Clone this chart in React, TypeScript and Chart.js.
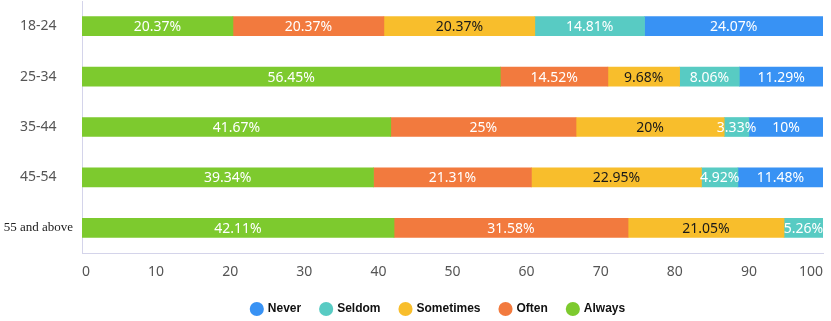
import React, { useEffect, useRef } from "react";
import { Chart, registerables } from "chart.js";

Chart.register(...registerables);

const categories = ["18-24", "25-34", "35-44", "45-54", "55 and above"];
const always = [20.37, 56.45, 41.67, 39.34, 42.11];
const often = [20.37, 14.52, 25, 21.31, 31.58];
const sometimes = [20.37, 9.68, 20, 22.95, 21.05];
const seldom = [14.81, 8.06, 3.33, 4.92, 5.26];
const never = [24.07, 11.29, 10, 11.48, 0];
const xTicks = [0, 10, 20, 30, 40, 50, 60, 70, 80, 90, 100];

const SANS = "'Noto Sans', 'Open Sans', sans-serif";

const seriesDefs = [
  { label: "Always", data: always, color: "#7dca2e", text: "#ffffff" },
  { label: "Often", data: often, color: "#f27a3e", text: "#ffffff" },
  { label: "Sometimes", data: sometimes, color: "#f8be2c", text: "#1a1a1a" },
  { label: "Seldom", data: seldom, color: "#58cbc3", text: "#ffffff" },
  { label: "Never", data: never, color: "#3892f4", text: "#ffffff" },
];

const barLabels = {
  id: "barLabels",
  afterLayout(chart: any) {
    if (chart.legend) {
      chart.legend.left += 27;
      chart.legend.right += 27;
    }
  },
  afterDatasetsDraw(chart: any) {
    const ctx = chart.ctx;
    ctx.save();
    ctx.font = `14px ${SANS}`;
    ctx.textAlign = "center";
    ctx.textBaseline = "middle";
    chart.data.datasets.forEach((ds: any, di: number) => {
      const meta = chart.getDatasetMeta(di);
      meta.data.forEach((bar: any, i: number) => {
        const v = ds.data[i];
        if (!v) return;
        ctx.fillStyle = seriesDefs[di].text;
        ctx.fillText(`${v}%`, (bar.x + bar.base) / 2, bar.y + 1);
      });
    });
    ctx.restore();
  },
};

export default function App() {
  const ref = useRef<HTMLCanvasElement | null>(null);
  useEffect(() => {
    if (!ref.current) return;
    const chart = new Chart(ref.current, {
      type: "bar",
      data: {
        labels: categories,
        datasets: seriesDefs.map((s) => ({
          label: s.label,
          data: s.data,
          backgroundColor: s.color,
          borderWidth: 0,
          barThickness: 19,
        })),
      },
      options: {
        indexAxis: "y",
        animation: false,
        responsive: false,
        layout: { padding: { left: 0, right: 8, top: 1, bottom: 0 } },
        plugins: {
          tooltip: { enabled: false },
          legend: {
            position: "bottom",
            reverse: true,
            labels: {
              usePointStyle: true,
              pointStyle: "circle",
              boxWidth: 10,
              boxHeight: 10,
              padding: 20,
              color: "#111",
              font: { family: "'Liberation Sans', Arial, sans-serif", size: 12, weight: "bold" },
            },
          },
        },
        scales: {
          x: {
            stacked: true,
            min: 0,
            max: 100,
            afterBuildTicks: (scale: any) => {
              scale.ticks = xTicks.map((v) => ({ value: v }));
            },
            afterFit: (scale: any) => {
              scale.height = 30;
              scale.paddingLeft = 0;
              scale.paddingRight = 0;
            },
            grid: { display: false, drawTicks: false, tickLength: 0 },
            border: { display: true, color: "#d4d4ea", width: 1 },
            ticks: {
              align: "inner",
              padding: 11,
              maxRotation: 0,
              color: "#555",
              font: { family: SANS, size: 14 },
            },
          },
          y: {
            stacked: true,
            afterFit: (scale: any) => {
              scale.width = 82;
              scale.paddingTop = 0;
              scale.paddingBottom = 0;
            },
            grid: { display: false, drawTicks: false, tickLength: 0 },
            border: { display: true, color: "#d4d4ea", width: 1 },
            ticks: {
              crossAlign: "center",
              padding: 9,
              autoSkip: false,
              color: (c: any) => (c.index === 4 ? "#222" : "#555"),
              font: (c: any) =>
                c.index === 4
                  ? { family: "'Liberation Serif', 'Times New Roman', serif", size: 13 }
                  : { family: SANS, size: 14 },
            },
          },
        },
      },
      plugins: [barLabels],
    });
    return () => chart.destroy();
  }, []);
  return (
    <div style={{ position: "fixed", left: 0, top: 0, width: 831, height: 325, background: "#fff" }}>
      <canvas ref={ref} width={831} height={325} />
    </div>
  );
}
